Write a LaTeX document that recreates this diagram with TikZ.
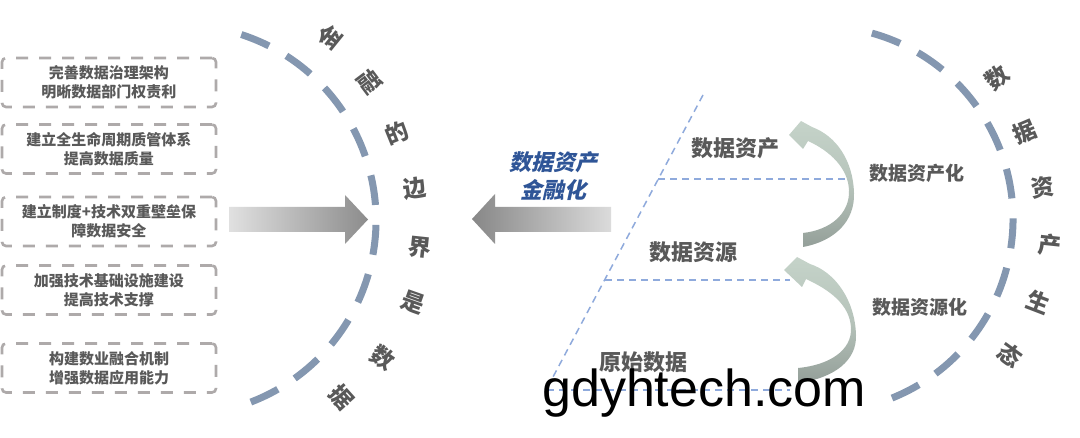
\documentclass[tikz,border=0pt]{standalone}
\usepackage{fontspec}
\setmainfont{Noto Sans CJK SC}
\newfontfamily\cjkbi{Noto Sans CJK SC}[FakeSlant=0.22]
\newfontfamily\wmfont{Liberation Sans}
\definecolor{txtgray}{HTML}{595959}
\definecolor{blueT}{HTML}{2F5597}
\definecolor{lineblue}{HTML}{8FAADC}
\definecolor{boxgray}{HTML}{AEAAAA}
\definecolor{arcblue}{HTML}{8497B0}
\definecolor{cvlight}{HTML}{C5D3C9}
\definecolor{cvdark}{HTML}{949F99}
\begin{document}
\begin{tikzpicture}[x=1pt,y=-1pt,
  boxd/.style={draw=boxgray, line width=2.6pt, dash pattern=on 12pt off 11pt,
    rounded corners=4pt, minimum width=214pt, minimum height=49pt, inner sep=0pt,
    align=center, text=txtgray, font=\fontsize{15}{19}\selectfont\bfseries},
  arcline/.style={draw=arcblue, line width=7pt, dash pattern=on 30pt off 20pt},
  arcch/.style={text=txtgray, font=\fontsize{23}{23}\selectfont\bfseries, inner sep=0pt},
  lbl/.style={text=txtgray, font=\fontsize{22}{22}\selectfont\bfseries, inner sep=0pt},
  sublbl/.style={text=txtgray, font=\fontsize{19}{19}\selectfont\bfseries, inner sep=0pt},
  bluedash/.style={draw=lineblue, line width=1.5pt, dash pattern=on 7pt off 5pt}
]
\useasboundingbox (0,0) rectangle (1080,438);
\fill[white] (0,0) rectangle (1080,438);

% left boxes
\node[boxd] (b1) at (109,82.5) {完善数据治理架构\\明晰数据部门权责利};
\node[boxd] (b2) at (109,149) {建立全生命周期质管体系\\提高数据质量};
\node[boxd] (b3) at (109,221.5) {建立制度+技术双重壁垒保\\障数据安全};
\node[boxd] (b4) at (109,290) {加强技术基础设施建设\\提高技术支撑};
\node[boxd] (b5) at (109,368) {构建数业融合机制\\增强数据应用能力};

% left dashed arc
\coordinate (lc) at (181,220);
\draw[arcline] (lc) ++(-72:195) arc[start angle=-72, end angle=71, radius=195];
\node[arcch, rotate=51]   (l1) at (330,37)  {金};
\node[arcch, rotate=37]   (l2) at (370,82)  {融};
\node[arcch, rotate=22]   (l3) at (397,133) {的};
\node[arcch, rotate=8]    (l4) at (415,188) {边};
\node[arcch, rotate=-6]   (l5) at (420,247) {界};
\node[arcch, rotate=-19.5](l6) at (413,302) {是};
\node[arcch, rotate=-34]  (l7) at (383,358) {数};
\node[arcch, rotate=-48]  (l8) at (342,397) {据};

% right dashed arc
\coordinate (rc) at (820,219);
\draw[arcline] (rc) ++(-74.4:193) arc[start angle=-74.4, end angle=70.7, radius=193];
\node[arcch, rotate=38.5] (r1) at (997,78)   {数};
\node[arcch, rotate=23]   (r2) at (1025,132) {据};
\node[arcch, rotate=8]    (r3) at (1043,187) {资};
\node[arcch, rotate=-6]   (r4) at (1050,245) {产};
\node[arcch, rotate=-21]  (r5) at (1038,302) {生};
\node[arcch, rotate=-36]  (r6) at (1010,355) {态};

% block arrows
\shade[left color=black!12, right color=black!45]
  (229,207) -- (345,207) -- (345,195) -- (368,219.5) -- (345,244) -- (345,232) -- (229,232) -- cycle;
\shade[left color=black!47, right color=black!14]
  (611,207) -- (495,207) -- (495,194) -- (472,219) -- (495,244) -- (495,232) -- (611,232) -- cycle;

\node[text=blueT, font=\fontsize{22}{28}\selectfont\bfseries\cjkbi, align=center, inner sep=0pt]
  (fin) at (553,176) {数据资产\\金融化};

% light blue dashed frame
\coordinate (s1) at (703,95);
\coordinate (s2) at (545,392);
\coordinate (h1a) at (658,179);
\coordinate (h1b) at (848,179);
\coordinate (h2a) at (605,280);
\coordinate (h2b) at (790,280);
\coordinate (h3a) at (547,390);
\coordinate (h3b) at (790,390);
\draw[bluedash] (s1) -- (s2);
\draw[bluedash] (h1a) -- (h1b);
\draw[bluedash] (h2a) -- (h2b);
\draw[bluedash] (h3a) -- (h3b);

\node[lbl] (asset) at (735,148) {数据资产};
\node[lbl] (res)   at (693,252) {数据资源};
\node[lbl] (raw)   at (643,362) {原始数据};
\node[sublbl] (assetz) at (917,173) {数据资产化};
\node[sublbl] (resz)   at (920,307) {数据资源化};

% curved arrows
\shade[top color=cvlight, bottom color=cvdark, middle color=cvlight!70!cvdark]
  (803,247) .. controls (835,241) and (855,221) .. (854,193)
  .. controls (853,160) and (836,136) .. (812,127)
  -- (801,121) -- (789,135) -- (803,149) -- (808,141)
  .. controls (830,151) and (848,168) .. (849,190)
  .. controls (850,214) and (830,230) .. (803,233) -- cycle;
\shade[top color=cvlight, bottom color=cvdark, middle color=cvlight!70!cvdark]
  (798,383) .. controls (835,378) and (857,360) .. (856,335)
  .. controls (855,300) and (835,272) .. (810,264)
  -- (797,257) -- (784,270) -- (802,287) -- (806,279)
  .. controls (830,290) and (850,305) .. (851,328)
  .. controls (852,350) and (830,365) .. (798,368) -- cycle;

% watermark
\node[anchor=base west, inner sep=0pt, font=\fontsize{52}{52}\selectfont\wmfont, text=black]
  (wm) at (542,407) {gdyhtech.com};
\end{tikzpicture}
\end{document}
